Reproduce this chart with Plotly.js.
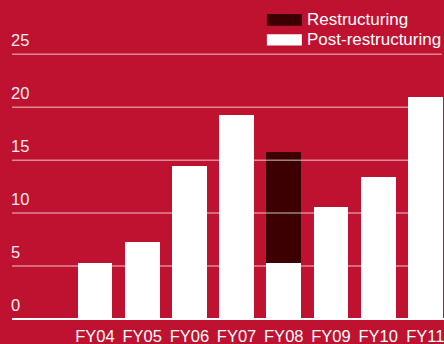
<!DOCTYPE html>
<html>
<head>
<meta charset="utf-8">
<script src="https://cdn.plot.ly/plotly-3.0.1.min.js"></script>
<style>html,body{margin:0;padding:0;background:#BE1230;}#chart{width:444px;height:344px;}</style>
</head>
<body>
<div id="chart"></div>
<script>
const categories = ['FY04','FY05','FY06','FY07','FY08','FY09','FY10','FY11'];
const postRestructuring = [5.3, 7.3, 14.4, 19.3, 5.25, 10.6, 13.4, 21.0];
const restructuring = [null, null, null, null, 10.5, null, null, null];
const seriesNames = ['Restructuring', 'Post-restructuring'];
const yTickVals = [0, 5, 10, 15, 20, 25];
const yTickLabels = ['0', '5', '10', '15', '20', '25'];

const BG = '#BE1230';
const DARK = '#3C0003';
const FONT = 'Liberation Sans, Arial, sans-serif';

const traces = [
  {type:'bar', x:categories, y:postRestructuring, name:seriesNames[1],
   marker:{color:'#FFFFFF', line:{width:0}}, width:0.74, hoverinfo:'none'},
  {type:'bar', x:categories, y:restructuring, name:seriesNames[0],
   marker:{color:DARK, line:{width:0}}, width:0.74, hoverinfo:'none'}
];

const shapes = [];
const annotations = [];
yTickVals.forEach((v, i) => {
  if (v > 0) {
    shapes.push({type:'line', xref:'paper', yref:'y', x0:0, x1:0.995, y0:v, y1:v,
      line:{color:'rgba(255,255,255,0.5)', width:1.5}, layer:'above'});
  }
  annotations.push({xref:'paper', yref:'y', x:-0.006, y:v, text:yTickLabels[i],
    showarrow:false, xanchor:'left', yanchor:'bottom', yshift:3,
    font:{family:FONT, size:16.5, color:'#F8EEF0'}});
});

// legend (manual)
const legendColors = [DARK, '#FFFFFF'];
const legendRows = [[0.919, 0.956], [0.857, 0.893]];
seriesNames.forEach((nm, i) => {
  shapes.push({type:'rect', xref:'paper', yref:'paper', x0:0.590, x1:0.671,
    y0:legendRows[i][0], y1:legendRows[i][1], fillcolor:legendColors[i],
    line:{width:0}, layer:'above'});
  annotations.push({xref:'paper', yref:'paper', x:0.678, y:(legendRows[i][0]+legendRows[i][1])/2,
    text:nm, showarrow:false, xanchor:'left', yanchor:'middle',
    font:{family:FONT, size:17, color:'#FFFFFF'}});
});

const layout = {
  width:444, height:344,
  margin:{l:12, r:0, t:0, b:25, pad:0},
  paper_bgcolor:BG, plot_bgcolor:BG,
  barmode:'stack',
  showlegend:false,
  xaxis:{type:'category', range:[-1.758, 7.395], showgrid:false, zeroline:false,
    showline:false, ticks:'', ticklabelstandoff:5,
    tickfont:{family:FONT, size:16.5, color:'#FFFFFF'}},
  yaxis:{range:[0, 30.12], showgrid:false, zeroline:true, zerolinecolor:'#FFFFFF',
    zerolinewidth:2, showticklabels:false, ticks:'', fixedrange:true},
  shapes:shapes,
  annotations:annotations,
  font:{family:FONT}
};

Plotly.newPlot('chart', traces, layout, {displayModeBar:false, staticPlot:true});
</script>
</body>
</html>
